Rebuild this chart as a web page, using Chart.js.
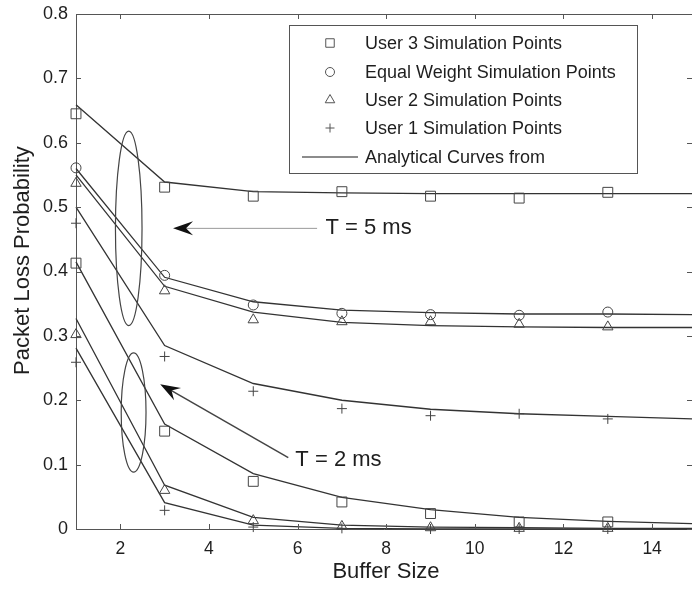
<!DOCTYPE html>
<html>
<head>
<meta charset="utf-8">
<script src="https://cdn.jsdelivr.net/npm/chart.js@4/dist/chart.umd.min.js"></script>
<style>
  html, body { margin: 0; padding: 0; background: #fff; }
  canvas { display: block; }
</style>
</head>
<body>
<canvas id="chart" width="692" height="589"></canvas>
<script>
// Buffer sizes where simulation points and analytical curve values exist
const bufferSim = [1, 3, 5, 7, 9, 11, 13];
const bufferCurve = [1, 3, 5, 7, 9, 11, 13, 15];

// Axis tick labels
const xTicks = [2, 4, 6, 8, 10, 12, 14];
const yTicks = [0, 0.1, 0.2, 0.3, 0.4, 0.5, 0.6, 0.7, 0.8];

// T = 5 ms : simulation points
const user3Sim5 = [0.645, 0.531, 0.517, 0.524, 0.517, 0.514, 0.523];
const equalSim5 = [0.561, 0.394, 0.348, 0.335, 0.333, 0.332, 0.337];
const user2Sim5 = [0.537, 0.370, 0.325, 0.322, 0.322, 0.318, 0.314];
const user1Sim5 = [0.475, 0.268, 0.214, 0.187, 0.176, 0.179, 0.171];

// T = 5 ms : analytical curves
const user3Curve5 = [0.659, 0.539, 0.524, 0.522, 0.521, 0.521, 0.521, 0.521];
const equalCurve5 = [0.560, 0.391, 0.353, 0.340, 0.336, 0.334, 0.334, 0.333];
const user2Curve5 = [0.550, 0.377, 0.337, 0.321, 0.316, 0.314, 0.313, 0.313];
const user1Curve5 = [0.500, 0.285, 0.226, 0.200, 0.186, 0.179, 0.175, 0.171];

// T = 2 ms : simulation points
const user3Sim2 = [0.413, 0.152, 0.074, 0.042, 0.024, 0.011, 0.011];
const user2Sim2 = [0.302, 0.060, 0.013, 0.004, 0.002, 0.001, 0.001];
const user1Sim2 = [0.259, 0.029, 0.003, 0.001, 0.000, 0.000, 0.000];

// T = 2 ms : analytical curves
const user3Curve2 = [0.415, 0.163, 0.086, 0.049, 0.030, 0.018, 0.012, 0.008];
const user2Curve2 = [0.327, 0.068, 0.018, 0.006, 0.003, 0.002, 0.001, 0.001];
const user1Curve2 = [0.281, 0.041, 0.006, 0.001, 0.000, 0.000, 0.000, 0.000];

// Legend entries and axis titles
const legendLabels = [
  'User 3 Simulation Points',
  'Equal Weight Simulation Points',
  'User 2 Simulation Points',
  'User 1 Simulation Points',
  'Analytical Curves from'
];
const xTitle = 'Buffer Size';
const yTitle = 'Packet Loss Probability';

const INK = '#333';
const MARK = '#444';
const TEXT = '#1e1e1e';
const FONT = "'Liberation Sans', Arial, sans-serif";

const pts = (xs, ys) => ys.map((y, i) => ({ x: xs[i], y }));

const markerStyles = {
  rect: { pointStyle: 'rect', radius: 7 },
  circle: { pointStyle: 'circle', radius: 5 },
  triangle: { pointStyle: 'triangle', radius: 6 },
  cross: { pointStyle: 'cross', radius: 5 }
};

function simSet(label, ys, style) {
  const m = markerStyles[style];
  return {
    label, data: pts(bufferSim, ys), showLine: false,
    pointStyle: m.pointStyle, pointRadius: m.radius, pointHoverRadius: m.radius,
    pointBorderColor: MARK, pointBackgroundColor: 'rgba(0,0,0,0)', pointBorderWidth: 1,
    clip: false, order: 1
  };
}
function curveSet(label, ys) {
  return {
    label, data: pts(bufferCurve, ys), showLine: true, tension: 0,
    borderColor: INK, borderWidth: 1.3, pointRadius: 0, pointHoverRadius: 0,
    fill: false, clip: 2, order: 2
  };
}

const datasets = [
  curveSet('User 3 curve, T=5', user3Curve5),
  curveSet('Equal weight curve, T=5', equalCurve5),
  curveSet('User 2 curve, T=5', user2Curve5),
  curveSet('User 1 curve, T=5', user1Curve5),
  curveSet('User 3 curve, T=2', user3Curve2),
  curveSet('User 2 curve, T=2', user2Curve2),
  curveSet('User 1 curve, T=2', user1Curve2),
  simSet('User 3, T=5', user3Sim5, 'rect'),
  simSet('Equal weight, T=5', equalSim5, 'circle'),
  simSet('User 2, T=5', user2Sim5, 'triangle'),
  simSet('User 1, T=5', user1Sim5, 'cross'),
  simSet('User 3, T=2', user3Sim2, 'rect'),
  simSet('User 2, T=2', user2Sim2, 'triangle'),
  simSet('User 1, T=2', user1Sim2, 'cross')
];

// Draws a marker in the same shape Chart.js uses for the datasets
function drawMarker(ctx, style, x, y, r) {
  if (Chart.helpers && Chart.helpers.drawPoint) {
    ctx.fillStyle = 'rgba(0,0,0,0)';
    Chart.helpers.drawPoint(ctx, { pointStyle: style, rotation: 0, radius: r, borderWidth: 1 }, x, y);
    return;
  }
  ctx.beginPath();
  if (style === 'rect') { const s = r * Math.SQRT1_2; ctx.rect(x - s, y - s, 2 * s, 2 * s); }
  else if (style === 'circle') { ctx.arc(x, y, r, 0, Math.PI * 2); }
  else if (style === 'triangle') {
    for (let k = 0; k < 3; k++) {
      const a = -Math.PI / 2 + k * 2 * Math.PI / 3;
      const px = x + Math.cos(a) * r, py = y + Math.sin(a) * r;
      k ? ctx.lineTo(px, py) : ctx.moveTo(px, py);
    }
    ctx.closePath();
  } else { ctx.moveTo(x - r, y); ctx.lineTo(x + r, y); ctx.moveTo(x, y - r); ctx.lineTo(x, y + r); }
  ctx.stroke();
}

function arrowHead(ctx, tx, ty, fx, fy, len, half) {
  const a = Math.atan2(ty - fy, tx - fx);
  ctx.save();
  ctx.translate(tx, ty);
  ctx.rotate(a);
  ctx.beginPath();
  ctx.moveTo(0, 0);
  ctx.lineTo(-len, -half);
  ctx.lineTo(-len * 0.65, 0);
  ctx.lineTo(-len, half);
  ctx.closePath();
  ctx.fill();
  ctx.restore();
}

const framePlugin = {
  id: 'frameAndNotes',
  afterDraw(chart) {
    const { ctx, chartArea: ca, scales } = chart;
    const xs = scales.x, ys = scales.y;
    ctx.save();

    // top border and inward ticks on all four sides
    ctx.strokeStyle = '#555';
    ctx.lineWidth = 1;
    ctx.beginPath();
    ctx.moveTo(ca.left, ca.top + 0.5); ctx.lineTo(ca.right, ca.top + 0.5);
    const tl = 5;
    xs.ticks.forEach(t => {
      const px = Math.round(xs.getPixelForValue(t.value)) + 0.5;
      ctx.moveTo(px, ca.bottom); ctx.lineTo(px, ca.bottom - tl);
      ctx.moveTo(px, ca.top); ctx.lineTo(px, ca.top + tl);
    });
    ys.ticks.forEach(t => {
      const py = Math.round(ys.getPixelForValue(t.value)) + 0.5;
      ctx.moveTo(ca.left, py); ctx.lineTo(ca.left + tl, py);
      ctx.moveTo(ca.right, py); ctx.lineTo(ca.right - tl, py);
    });
    ctx.stroke();

    // axis titles
    ctx.fillStyle = TEXT;
    ctx.font = '22px ' + FONT;
    ctx.textAlign = 'center';
    ctx.textBaseline = 'middle';
    ctx.fillText(xTitle, (ca.left + ca.right) / 2 + 2, 572);
    ctx.save();
    ctx.translate(23, ys.getPixelForValue(0.417));
    ctx.rotate(-Math.PI / 2);
    ctx.fillText(yTitle, 0, 0);
    ctx.restore();

    // group ellipses
    const ell = (cx, cy, rx, ry) => {
      const px = xs.getPixelForValue(cx), py = ys.getPixelForValue(cy);
      const prx = Math.abs(xs.getPixelForValue(cx + rx) - px);
      const pry = Math.abs(ys.getPixelForValue(cy + ry) - py);
      ctx.beginPath();
      ctx.ellipse(px, py, prx, pry, 0, 0, Math.PI * 2);
      ctx.stroke();
    };
    ctx.strokeStyle = '#444';
    ctx.lineWidth = 1.2;
    ell(2.19, 0.467, 0.30, 0.151);
    ell(2.30, 0.181, 0.28, 0.0925);

    // T = 5 ms arrow
    let tx = xs.getPixelForValue(3.19), ty = ys.getPixelForValue(0.467);
    let fx = xs.getPixelForValue(6.44), fy = ty;
    ctx.strokeStyle = '#999';
    ctx.lineWidth = 1;
    ctx.beginPath(); ctx.moveTo(fx, fy); ctx.lineTo(tx + 12, ty); ctx.stroke();
    ctx.fillStyle = '#111';
    arrowHead(ctx, tx, ty, fx, fy, 20, 7);

    // T = 2 ms arrow
    tx = xs.getPixelForValue(2.90); ty = ys.getPixelForValue(0.225);
    fx = xs.getPixelForValue(5.79); fy = ys.getPixelForValue(0.111);
    ctx.strokeStyle = '#444';
    ctx.lineWidth = 1.5;
    const ang = Math.atan2(ty - fy, tx - fx);
    ctx.beginPath(); ctx.moveTo(fx, fy); ctx.lineTo(tx - Math.cos(ang) * 12, ty - Math.sin(ang) * 12); ctx.stroke();
    arrowHead(ctx, tx, ty, fx, fy, 20, 7);

    // annotation text
    ctx.fillStyle = TEXT;
    ctx.font = '22px ' + FONT;
    ctx.textAlign = 'left';
    ctx.textBaseline = 'middle';
    ctx.fillText('T = 5 ms', xs.getPixelForValue(6.63), ys.getPixelForValue(0.467));
    ctx.fillText('T = 2 ms', xs.getPixelForValue(5.95), ys.getPixelForValue(0.107));

    // legend box
    const bx = 289.5, by = 25.5, bw = 348, bh = 148;
    ctx.fillStyle = '#fff';
    ctx.fillRect(bx, by, bw, bh);
    ctx.strokeStyle = '#555';
    ctx.lineWidth = 1;
    ctx.strokeRect(bx, by, bw, bh);
    const rowY = [43, 72, 100, 128, 157];
    const styles = ['rect', 'circle', 'triangle', 'cross'];
    ctx.strokeStyle = '#555';
    styles.forEach((s, i) => drawMarker(ctx, s, 330, rowY[i], s === 'rect' ? 6 : (s === 'triangle' ? 5.5 : 4.5)));
    ctx.strokeStyle = '#666';
    ctx.lineWidth = 1.3;
    ctx.beginPath(); ctx.moveTo(302, rowY[4]); ctx.lineTo(358, rowY[4]); ctx.stroke();
    ctx.fillStyle = TEXT;
    ctx.font = '18px ' + FONT;
    ctx.textAlign = 'left';
    ctx.textBaseline = 'middle';
    legendLabels.forEach((t, i) => ctx.fillText(t, 365, rowY[i] + 1));

    ctx.restore();
  }
};

new Chart(document.getElementById('chart'), {
  type: 'scatter',
  data: { datasets },
  options: {
    responsive: false,
    animation: false,
    devicePixelRatio: 1,
    layout: { autoPadding: false, padding: { top: 14, right: 0, left: 0, bottom: 0 } },
    plugins: { legend: { display: false }, tooltip: { enabled: false } },
    scales: {
      x: {
        type: 'linear', min: 1, max: 14.9,
        afterBuildTicks: s => { s.ticks = xTicks.map(v => ({ value: v })); },
        afterFit: s => { s.height = 60; s.paddingLeft = 0; s.paddingRight = 0; },
        grid: { display: false, drawTicks: false },
        border: { display: true, color: '#555', width: 1 },
        ticks: { padding: 10, color: TEXT, font: { family: FONT, size: 17.5 }, callback: v => String(v) },
        title: { display: false }
      },
      y: {
        type: 'linear', min: 0, max: 0.8,
        afterBuildTicks: s => { s.ticks = yTicks.map(v => ({ value: v })); },
        afterFit: s => { s.width = 76; s.paddingTop = 0; s.paddingBottom = 0; },
        grid: { display: false, drawTicks: false },
        border: { display: true, color: '#555', width: 1 },
        ticks: { padding: 8, color: TEXT, font: { family: FONT, size: 18 }, callback: v => String(v) },
        title: { display: false }
      }
    }
  },
  plugins: [framePlugin]
});
</script>
</body>
</html>
